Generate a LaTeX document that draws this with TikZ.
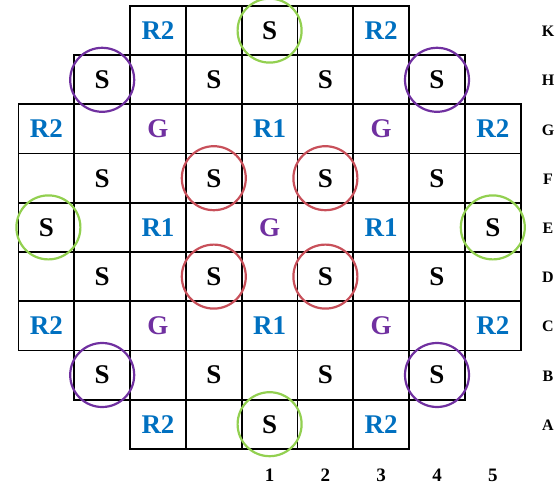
\documentclass[tikz,border=0pt]{standalone}
\usepackage{fontspec}
\setmainfont{Liberation Serif}
\definecolor{rblue}{HTML}{0070C0}
\definecolor{gpurple}{HTML}{7030A0}
\definecolor{cgreen}{HTML}{92D050}
\definecolor{cred}{HTML}{C8505A}
\definecolor{cpurple}{HTML}{7030A0}
\begin{document}
\begin{tikzpicture}[x=1pt,y=-1pt,
  cell/.style={draw=black, line width=1.8pt, minimum width=55.8pt, minimum height=49.2pt, inner sep=0pt},
  big/.style={font=\fontsize{27}{29}\selectfont\bfseries, inner sep=0pt},
  stxt/.style={big, text=black},
  rtxt/.style={big, text=rblue},
  gtxt/.style={big, text=gpurple},
  ring/.style={circle, line width=2.2pt, minimum size=64pt, inner sep=0pt},
  rowlab/.style={font=\fontsize{16}{18}\selectfont\bfseries, inner sep=0pt},
  collab/.style={font=\fontsize{19}{21}\selectfont\bfseries, inner sep=0pt}]
\useasboundingbox (0,0) rectangle (558,487);
% grid cells
\foreach \r/\lo/\hi in {1/3/7, 2/2/8, 3/1/9, 4/1/9, 5/1/9, 6/1/9, 7/1/9, 8/2/8, 9/3/7}{
  \foreach \c in {\lo,...,\hi}{
    \node[cell] (c\r-\c) at ({46.4+(\c-1)*55.8},{30.6+(\r-1)*49.2}) {};
  }
}
% circles
\node[ring, draw=cgreen] (gK) at (c1-5) {};
\node[ring, draw=cgreen] (gA) at (c9-5) {};
\node[ring, draw=cgreen] (gEl) at ([xshift=2pt]c5-1) {};
\node[ring, draw=cgreen] (gEr) at (c5-9) {};
\node[ring, draw=cpurple] (pH2) at (c2-2) {};
\node[ring, draw=cpurple] (pH8) at (c2-8) {};
\node[ring, draw=cpurple] (pB2) at (c8-2) {};
\node[ring, draw=cpurple] (pB8) at (c8-8) {};
\node[ring, draw=cred] (rF4) at (c4-4) {};
\node[ring, draw=cred] (rF6) at (c4-6) {};
\node[ring, draw=cred] (rD4) at (c6-4) {};
\node[ring, draw=cred] (rD6) at (c6-6) {};
% texts
\foreach \r/\c in {1/5, 9/5, 2/2, 2/4, 2/6, 2/8, 8/2, 8/4, 8/6, 8/8, 4/2, 4/4, 4/6, 4/8, 6/2, 6/4, 6/6, 6/8, 5/1, 5/9}{
  \node[stxt] (s\r-\c) at (c\r-\c) {S};
}
\foreach \r/\c/\t in {1/3/R2, 1/7/R2, 9/3/R2, 9/7/R2, 3/1/R2, 3/9/R2, 7/1/R2, 7/9/R2, 3/5/R1, 7/5/R1, 5/3/R1, 5/7/R1}{
  \node[rtxt] (t\r-\c) at (c\r-\c) {\t};
}
\foreach \r/\c in {3/3, 3/7, 7/3, 7/7, 5/5}{
  \node[gtxt] (q\r-\c) at (c\r-\c) {G};
}
% row labels
\foreach \r/\l in {1/K, 2/H, 3/G, 4/F, 5/E, 6/D, 7/C, 8/B, 9/A}{
  \node[rowlab] (row\l) at ({548},{31.5+(\r-1)*49.2}) {\l};
}
% column labels
\foreach \c/\l in {5/1, 6/2, 7/3, 8/4, 9/5}{
  \node[collab] (col\l) at ({46.4+(\c-1)*55.8},{475.5}) {\l};
}
\end{tikzpicture}
\end{document}
